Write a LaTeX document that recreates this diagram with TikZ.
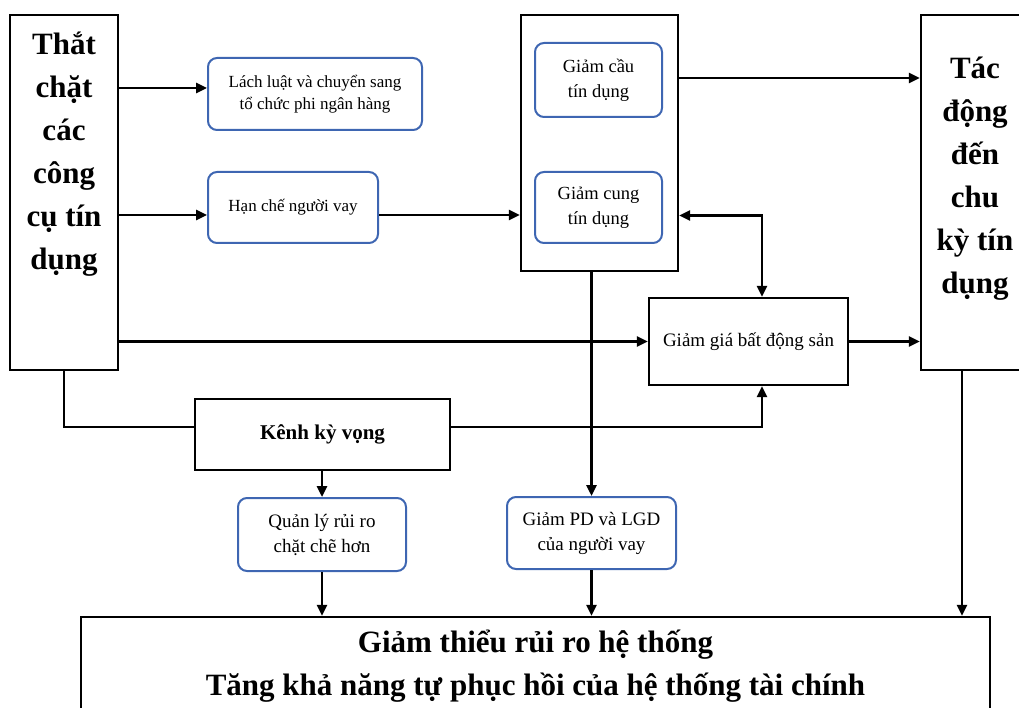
\documentclass[tikz,border=0pt]{standalone}
\usepackage{fontspec}
\setmainfont{Liberation Serif}
\usetikzlibrary{arrows.meta,positioning,calc}
\definecolor{boxblue}{RGB}{62,102,178}

\begin{document}
\begin{tikzpicture}
% styles, 1 unit = 1 pixel of the page
[
    x=1pt, y=-1pt,
    frame/.style={draw, line width=2.3pt, inner sep=0pt},
    rbox/.style={draw=boxblue, rounded corners=9pt, line width=2pt, inner sep=0pt,
      align=center, font=\fontsize{18.5}{25}\selectfont},
    plain/.style={frame, align=center, font=\fontsize{19}{25}\selectfont},
    bigtxt/.style={inner sep=0pt, align=center, font=\fontsize{31}{43}\selectfont\bfseries},
    arr/.style={line width=2.6pt, -{Triangle[length=11pt,width=10pt]}},
    darr/.style={line width=2.6pt, {Triangle[length=11pt,width=10pt]}-{Triangle[length=11pt,width=10pt]}},
    link/.style={line width=2.6pt}
]

% page
\useasboundingbox (0,0) rectangle (1019,708);
\clip (0,0) rectangle (1019,708);

% side blocks
\node[frame, minimum width=108, minimum height=355] (lc) at (64,192.5) {};
\node[bigtxt, below=18pt of lc.north] (lctxt) {Thắt\\chặt\\các\\công\\cụ tín\\dụng};
\node[frame, minimum width=108, minimum height=355] (tac) at (975,192.5) {};
\node[bigtxt, below=43pt of tac.north] (tactxt) {Tác\\động\\đến\\chu\\kỳ tín\\dụng};

% first channel boxes
\node[rbox, minimum width=214, minimum height=72, font=\fontsize{17}{22}\selectfont] (lach) at (315,94)
  {Lách luật và chuyển sang\\tổ chức phi ngân hàng};
\node[rbox, minimum width=170, minimum height=71, font=\fontsize{17}{22}\selectfont] (han) at (293,207.5) {Hạn chế người vay};

% credit block
\node[frame, minimum width=157, minimum height=256] (mid) at (599.5,143) {};
\node[rbox, minimum width=127, minimum height=74] (cau) at (598.5,80) {Giảm cầu\\tín dụng};
\node[rbox, minimum width=127, minimum height=71] (cung) at (598.5,207.5) {Giảm cung\\tín dụng};

% house prices and expectations
\node[plain, minimum width=199, minimum height=87] (gia) at (748.5,341.5) {Giảm giá bất động sản};
\node[plain, minimum width=255, minimum height=71, font=\fontsize{21}{25}\selectfont\bfseries] (kenh) at (322.5,434.5) {Kênh kỳ vọng};

% lower boxes
\node[rbox, minimum width=168, minimum height=73, font=\fontsize{19}{25}\selectfont] (ql) at (322,534.5) {Quản lý rủi ro\\chặt chẽ hơn};
\node[rbox, minimum width=169, minimum height=72, font=\fontsize{19}{25}\selectfont] (pd) at (591.5,533) {Giảm PD và LGD\\của người vay};

% result
\node[frame, minimum width=909, minimum height=130] (bot) at (535.5,682) {};
\node[bigtxt, below=14pt of bot.north] (bottxt) {Giảm thiểu rủi ro hệ thống\\Tăng khả năng tự phục hồi của hệ thống tài chính};

% connector ends off the box centres
\coordinate (lachin) at ([yshift=6pt]lach.west);
\coordinate (hanin) at ([yshift=-7.5pt]han.west);
\coordinate (hanout) at ([yshift=-7.5pt]han.east);
\coordinate (cauout) at ([yshift=2pt]cau.east);
\coordinate (cungin) at ([yshift=-8pt]cung.east);
\coordinate (giatop) at ([xshift=13.5pt]gia.north);
\coordinate (giabot) at ([xshift=13.5pt]gia.south);
\coordinate (kenhin) at ([yshift=7.5pt]kenh.west);
\coordinate (kenhout) at ([yshift=7.5pt]kenh.east);
\coordinate (tacout) at ([xshift=-13pt]tac.south);

% arrows from the tightening block
\draw[arr] (lc.east |- lachin) -- (lachin);
\draw[arr] (lc.east |- hanin) -- (hanin);
\draw[arr] (hanout) -- (mid.west |- hanout);
\draw[arr] (lc.east |- gia.west) -- (gia.west);

% arrows to the credit cycle
\draw[arr] (mid.east |- cauout) -- (tac.west |- cauout);
\draw[arr] (gia.east) -- (tac.west |- gia.east);
\draw[darr] (mid.east |- cungin) -| (giatop);

% expectations channel
\draw[link] (lc.south) |- (kenhin);
\draw[arr] (kenhout) -| (giabot);
\draw[arr] (kenh.south -| ql.north) -- (ql.north);
\draw[arr] (pd.north |- mid.south) -- (pd.north);

% down to the result
\draw[arr] (ql.south) -- (ql.south |- bot.north);
\draw[arr] (pd.south) -- (pd.south |- bot.north);
\draw[arr] (tacout) -- (tacout |- bot.north);

\end{tikzpicture}
\end{document}
